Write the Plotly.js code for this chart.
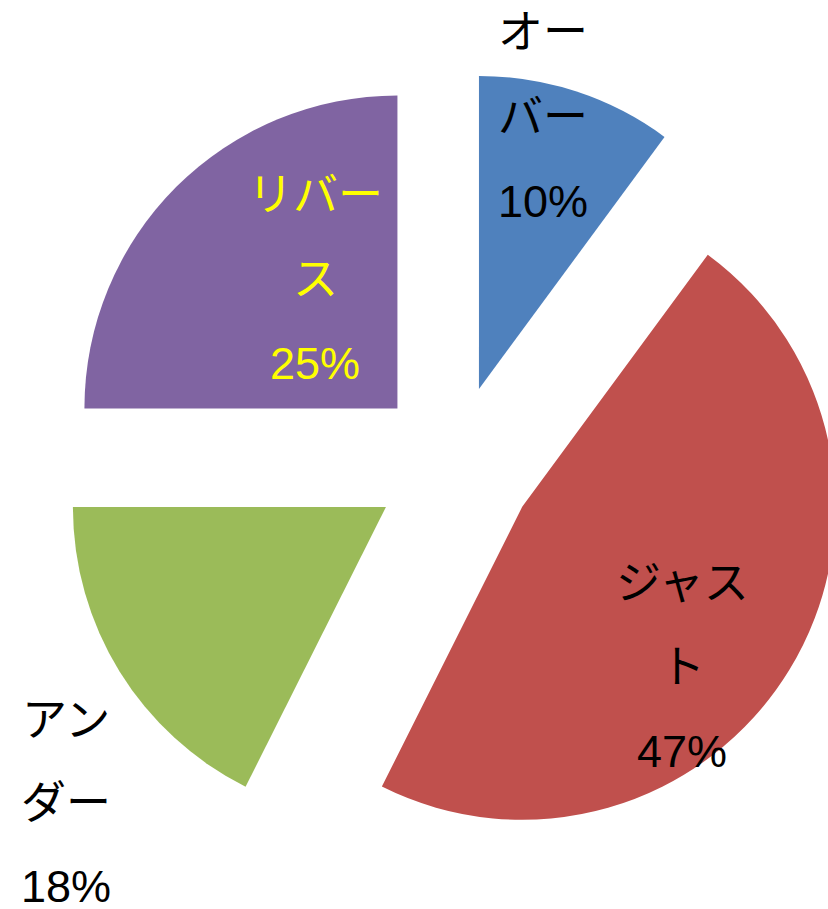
<!DOCTYPE html>
<html>
<head>
<meta charset="utf-8">
<script src="https://cdn.plot.ly/plotly-3.0.1.min.js"></script>
<style>
html, body { margin: 0; padding: 0; overflow: hidden; background: #fff; }
#chart { width: 908px; height: 909px; }
</style>
</head>
<body>
<div id="chart"></div>
<script>
// ---- data ----
var labels = ['オーバー', 'ジャスト', 'アンダー', 'リバース'];
var values = [10.1, 47.3, 17.6, 25.0];
var labelLines = [['オー', 'バー'], ['ジャス', 'ト'], ['アン', 'ダー'], ['リバー', 'ス']];
var colors = ['#4F81BD', '#C0504D', '#9BBB59', '#8064A2'];
var textColors = ['#000000', '#000000', '#000000', '#FFFF00'];

// ---- layout settings (label placement in pixels) ----
var W = 908, H = 909;
var labelPos = [
  {x: 543, y: 33, pitch: 84},
  {x: 682, y: 583, pitch: 84},
  {x: 66, y: 720, pitch: 83},
  {x: 315, y: 195, pitch: 84}
];
var fontFamily = '"Liberation Sans", Arial, "Noto Sans CJK JP", sans-serif';

var total = values.reduce(function (a, b) { return a + b; }, 0);
var annotations = [];
labels.forEach(function (lab, i) {
  var pct = Math.round(values[i] / total * 100) + '%';
  var lines = labelLines[i].concat([pct]);
  lines.forEach(function (t, j) {
    annotations.push({
      text: t,
      xref: 'paper', yref: 'paper',
      x: labelPos[i].x / W,
      y: 1 - (labelPos[i].y + j * labelPos[i].pitch) / H,
      xanchor: 'center', yanchor: 'middle',
      showarrow: false,
      font: {family: fontFamily, size: 45, color: textColors[i]}
    });
  });
});

var trace = {
  type: 'pie',
  labels: labels,
  values: values,
  sort: false,
  direction: 'clockwise',
  rotation: 0,
  pull: [0.2556, 0.2556, 0.2556, 0.2556],
  marker: {colors: colors, line: {width: 0}},
  textinfo: 'none',
  hoverinfo: 'label+percent',
  domain: {x: [0, 1], y: [0.0561, 0.9208]}
};

var layout = {
  width: W,
  height: H,
  margin: {l: 0, r: 0, t: 0, b: 0},
  paper_bgcolor: '#ffffff',
  showlegend: false,
  annotations: annotations,
  font: {family: fontFamily}
};

Plotly.newPlot('chart', [trace], layout, {displayModeBar: false, staticPlot: true});
</script>
</body>
</html>
